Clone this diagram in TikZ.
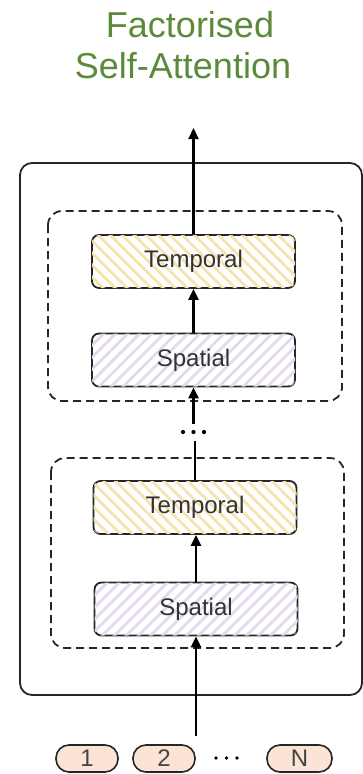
\documentclass[tikz,border=0pt]{standalone}
\usepackage{fontspec}
\setmainfont{Liberation Sans}
\usetikzlibrary{arrows.meta,patterns.meta}
\definecolor{titlegreen}{HTML}{5B8A3A}
\definecolor{tempstripe}{HTML}{F6E4B0}
\definecolor{spatstripe}{HTML}{E4DAF0}
\definecolor{tokfill}{HTML}{FBE3D5}
\definecolor{tokgray}{HTML}{444444}
\tikzset{
  blockbox/.style={draw=black!85, line width=1.8pt, rounded corners=7pt,
    minimum width=203pt, minimum height=53pt, fill=white,
    font=\fontsize{24}{28}\selectfont, text=black!80},
  tempbox/.style={blockbox, postaction={pattern={Lines[angle=-45,distance=8.5pt,line width=2.8pt]}, pattern color=tempstripe}},
  spatbox/.style={blockbox, postaction={pattern={Lines[angle=45,distance=8.5pt,line width=2.8pt]}, pattern color=spatstripe}},
  tokbox/.style={draw=black!85, line width=1.6pt, rounded corners=13pt, fill=tokfill,
    minimum height=27pt, inner sep=0pt, font=\fontsize{24}{28}\selectfont, text=tokgray},
  conn/.style={line width=2.2pt, black},
  arr/.style={conn, -{Triangle[length=11pt,width=10pt]}},
  dashbox/.style={draw=black!85, line width=1.8pt, dash pattern=on 8pt off 5pt, rounded corners=14pt},
  dotmark/.style={fill=black, circle, inner sep=0pt, minimum size=4.2pt}
}
\begin{document}
\begin{tikzpicture}[x=1pt,y=-1pt]
\useasboundingbox (0,0) rectangle (363,774);
% title
\node[anchor=base, text=titlegreen, font=\fontsize{36}{40}\selectfont] (title1) at (190,37) {Factorised};
\node[anchor=base, text=titlegreen, font=\fontsize{36}{40}\selectfont] (title2) at (183,78) {Self-Attention};
% outer box
\draw[line width=1.8pt, black!85, rounded corners=12pt] (20,163) rectangle (362,695);
% dashed groups
\draw[dashbox] (48,211) rectangle (342,401);
\draw[dashbox] (51,458) rectangle (344,648);
% blocks
\node[tempbox] (t1) at (193.5,261.5) {Temporal};
\node[spatbox] (s1) at (193.5,360) {Spatial};
\node[tempbox] (t2) at (195,507.5) {Temporal};
\node[spatbox] (s2) at (196,609) {Spatial};
% coordinates
\coordinate (out) at (193.5,128);
\coordinate (dtop) at (193.5,424);
\coordinate (dbot) at (195,441);
\coordinate (inp) at (196,736);
% dots between groups
\node[dotmark] (d1) at (183,432) {};
\node[dotmark] (d2) at (193.5,432) {};
\node[dotmark] (d3) at (204,432) {};
% connectors
\draw[arr] (t1.north) -- (out);
\draw[arr] (s1.north) -- (t1.south);
\draw[arr] (dtop) -- (s1.south);
\draw[conn] (t2.north) -- (dbot);
\draw[arr] (s2.north) -- (s2.north |- t2.south);
\draw[arr] (inp) -- (s2.south);
% tokens
\node[tokbox, minimum width=62pt] (k1) at (87,758.5) {1};
\node[tokbox, minimum width=62pt] (k2) at (164,758.5) {2};
\node[tokbox, minimum width=65pt] (kn) at (299.5,758.5) {N};
\node[dotmark, minimum size=3.6pt] (e1) at (216,758) {};
\node[dotmark, minimum size=3.6pt] (e2) at (226.5,758) {};
\node[dotmark, minimum size=3.6pt] (e3) at (237,758) {};
\end{tikzpicture}
\end{document}
